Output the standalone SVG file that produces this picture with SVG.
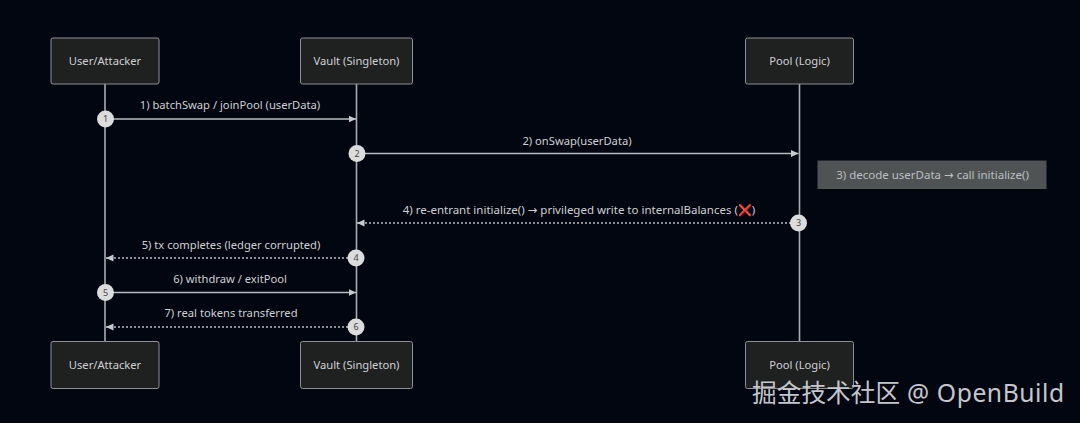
<svg xmlns="http://www.w3.org/2000/svg" width="1080" height="423" viewBox="0 0 1080 423">
<style>
text{font-family:"Noto Sans","DejaVu Sans",sans-serif;font-size:11.2px;fill:#cfd0d2;text-anchor:middle}
.box{fill:#1f2020;stroke:#8d9095;stroke-width:1}
.life{stroke:#a9acb3;stroke-width:1.600;fill:none}
.msg{stroke:#b9bcc2;stroke-width:1.300;fill:none;marker-end:url(#arrow)}
.dash{stroke-dasharray:2 2}
.num{fill:#dcdcdc}
.numt{fill:#444;font-size:9px}
.wide{font-size:11.500px}
</style>
<defs><marker id="arrow" markerUnits="userSpaceOnUse" markerWidth="8" markerHeight="8" refX="7.500" refY="4" orient="auto"><path d="M0 .5L7.500 4L0 7.500Z" fill="#c8cacf"/></marker></defs>
<rect width="1080" height="423" fill="#020611"/>
<g id="connectors">
<path class="life" d="M105 84V341"/><path class="life" d="M356.500 84V341"/><path class="life" d="M799.500 84V341"/>
<path class="msg" d="M105 119H356"/>
<path class="msg" d="M357 153.500H798.500"/>
<path class="msg dash" d="M799 223H357"/>
<path class="msg dash" d="M356 258H106"/>
<path class="msg" d="M105 292.500H356"/>
<path class="msg dash" d="M356 327H106"/>
</g>
<g id="user-top"><rect class="box" x="51" y="38" width="108" height="46" rx="2"/><text x="105" y="65">User/Attacker</text></g>
<g id="vault-top"><rect class="box" x="300.500" y="38" width="112" height="46" rx="2"/><text x="356.500" y="65">Vault (Singleton)</text></g>
<g id="pool-top"><rect class="box" x="745.500" y="38" width="108" height="46" rx="2"/><text x="799.500" y="65">Pool (Logic)</text></g>
<g id="user-bottom"><rect class="box" x="51" y="341.500" width="108" height="47" rx="2"/><text x="105" y="369">User/Attacker</text></g>
<g id="vault-bottom"><rect class="box" x="300.500" y="341.500" width="112" height="47" rx="2"/><text x="356.500" y="369">Vault (Singleton)</text></g>
<g id="pool-bottom"><rect class="box" x="745.500" y="341.500" width="108" height="47" rx="2"/><text x="799.500" y="369">Pool (Logic)</text></g>
<g id="note"><rect x="817.500" y="160.500" width="229" height="28.500" fill="#4f5354"/><text class="wide" x="932.500" y="179" style="fill:#bcbec0">3) decode userData → call initialize()</text></g>
<g id="labels">
<text x="230" y="109">1) batchSwap / joinPool (userData)</text>
<text x="577" y="145">2) onSwap(userData)</text>
<text class="wide" x="579" y="214">4) re-entrant initialize() → privileged write to internalBalances (<tspan style="fill:#d8402c" font-family="'DejaVu Sans'">❌</tspan>)</text>
<text x="231" y="249">5) tx completes (ledger corrupted)</text>
<text x="230" y="283">6) withdraw / exitPool</text>
<text x="231" y="317">7) real tokens transferred</text>
</g>
<g id="seq1"><circle class="num" cx="105.500" cy="119" r="8.500"/><text class="numt" x="105.500" y="122">1</text></g>
<g id="seq2"><circle class="num" cx="357" cy="153.500" r="8.500"/><text class="numt" x="357" y="156.500">2</text></g>
<g id="seq3"><circle class="num" cx="798.500" cy="223" r="8.500"/><text class="numt" x="798.500" y="226">3</text></g>
<g id="seq4"><circle class="num" cx="356" cy="258" r="8.500"/><text class="numt" x="356" y="261">4</text></g>
<g id="seq5"><circle class="num" cx="105.500" cy="292.500" r="8.500"/><text class="numt" x="105.500" y="295.500">5</text></g>
<g id="seq6"><circle class="num" cx="356" cy="327" r="8.500"/><text class="numt" x="356" y="330">6</text></g>
<text id="watermark" x="752" y="402" style="font-family:'Noto Sans','Noto Sans CJK SC',sans-serif;font-size:24.700px;text-anchor:start;fill:#c5c6cb">掘金技术社区<tspan letter-spacing=".55"> @ OpenBuild</tspan></text>
</svg>
